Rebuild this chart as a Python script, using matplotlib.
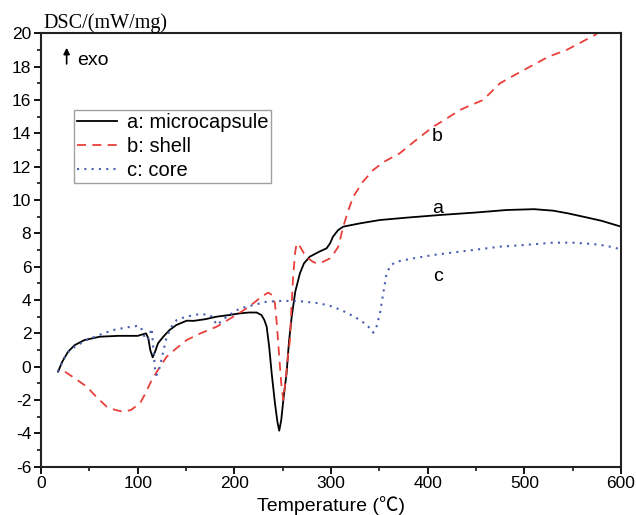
import matplotlib
matplotlib.use('Agg')
import matplotlib.pyplot as plt
from matplotlib.ticker import MultipleLocator


# curve a: microcapsule (black solid)
T_A = [17.6, 22, 28, 35, 45, 61, 80, 100, 108.6, 111, 113, 115.5, 118, 121, 126.5,
       133, 140, 150.7, 158, 164, 170, 181.7, 195, 205.8, 215, 223, 228, 231, 233.4,
       236, 238.6, 242, 244.5, 246.4, 248.5, 251, 254, 256.5, 259.3, 263, 267.8, 272,
       278, 287.8, 295.4, 299, 302, 307.4, 312.6, 330, 350.6, 380, 412.6, 450, 481.6,
       510, 529.8, 545, 560.8, 580, 600]
V_A = [-0.3, 0.3, 0.9, 1.3, 1.6, 1.8, 1.85, 1.85, 2.0, 1.7, 1.0, 0.56, 0.9, 1.4, 1.8,
       2.2, 2.5, 2.76, 2.75, 2.8, 2.85, 3.0, 3.1, 3.2, 3.25, 3.25, 3.1, 2.8, 2.4,
       1.2, -0.4, -2.2, -3.3, -3.84, -3.2, -1.8, -0.4, 1.5, 3.0, 4.5, 5.6, 6.2,
       6.6, 6.9, 7.1, 7.4, 7.8, 8.2, 8.4, 8.6, 8.8, 8.95, 9.1, 9.25, 9.4,
       9.45, 9.36, 9.2, 9.0, 8.75, 8.4]

# curve b: shell (red dashed)
T_B = [24.8, 35, 47.3, 57, 67.9, 77, 85, 93, 102.4, 108, 114.5, 122, 130, 140, 150.7,
       165, 181.7, 198.9, 210, 219.6, 228, 235, 239, 242, 244, 246.4, 248.5, 250.6,
       253, 255, 257.5, 259, 261, 263, 264.4, 268, 272, 276.5, 281, 285, 292, 298.9,
       303, 307.5, 312.6, 318, 323, 333, 343.6, 355, 371, 388, 405.7, 420, 433.3,
       445, 457.4, 466, 474.7, 490, 509, 525, 543.6, 560, 573, 600]
V_B = [-0.3, -0.7, -1.2, -1.8, -2.4, -2.6, -2.7, -2.6, -2.2, -1.6, -0.8, -0.1, 0.6,
       1.1, 1.6, 2.0, 2.4, 3.0, 3.4, 3.8, 4.2, 4.44, 4.3, 3.8, 2.5, 0.6, -1.0, -2.0,
       -0.8, 0.4, 1.6, 3.5, 5.6, 6.9, 7.4, 7.2, 6.8, 6.5, 6.3, 6.2, 6.3, 6.5,
       6.8, 7.2, 8.4, 9.4, 10.2, 11.1, 11.8, 12.3, 12.8, 13.6, 14.4, 14.9, 15.4,
       15.7, 16.0, 16.5, 17.0, 17.5, 18.1, 18.6, 19.0, 19.5, 19.9, 21.0]

# curve c: core (blue dotted)
T_C = [17.6, 22, 26.5, 35, 47.3, 60, 74.8, 88, 98.9, 103, 105.8, 108, 111, 114.5,
       116, 118, 119.5, 122, 126, 130, 135, 140.3, 150, 164.4, 174.8, 178, 181.7,
       186, 192, 205.8, 220, 233.4, 250, 267.8, 288, 302, 316, 330, 338, 343.6, 347,
       350.6, 354, 357.5, 362, 367.8, 385, 405.7, 440, 474.7, 500, 529.8, 550, 571,
       585, 600]
V_C = [-0.3, 0.3, 0.8, 1.2, 1.6, 1.9, 2.2, 2.35, 2.44, 2.4, 2.0, 1.6, 1.7, 2.3,
       1.2, -0.2, -0.5, -0.2, 0.8, 1.8, 2.4, 2.8, 3.0, 3.16, 3.1, 2.9, 2.5,
       2.7, 3.0, 3.5, 3.7, 3.9, 3.95, 3.93, 3.8, 3.6, 3.25, 2.8, 2.45, 2.04, 2.4,
       3.2, 4.4, 5.6, 6.1, 6.3, 6.5, 6.7, 6.95, 7.2, 7.3, 7.44, 7.44, 7.36,
       7.25, 7.04]

X_TICKS = [0, 100, 200, 300, 400, 500, 600]
Y_TICKS = [-6, -4, -2, 0, 2, 4, 6, 8, 10, 12, 14, 16, 18, 20]

plt.rcParams['font.family'] = ['Liberation Sans', 'Noto Sans CJK SC', 'DejaVu Sans']
plt.rcParams['axes.unicode_minus'] = False

fig = plt.figure(figsize=(6.36, 5.15), dpi=100)
ax = fig.add_axes([0.0645, 0.0938, 0.912, 0.8415])

ax.plot(T_A, V_A, color='black', linewidth=1.3, label='a: microcapsule')
ax.plot(T_B, V_B, color='#e8403a', linewidth=1.3, linestyle=(0, (5, 3.5)), label='b: shell')
ax.plot(T_C, V_C, color='#4a5fb0', linewidth=1.5, linestyle=(0, (1, 2.5)), label='c: core')

ax.set_xlim(0, 600)
ax.set_ylim(-6, 20)
ax.set_xticks(X_TICKS)
ax.set_yticks(Y_TICKS)
ax.xaxis.set_minor_locator(MultipleLocator(50))
ax.yaxis.set_minor_locator(MultipleLocator(1))
ax.tick_params(which='major', direction='out', length=5, width=1.3, labelsize=12.5, pad=2)
ax.tick_params(which='minor', direction='out', length=3, width=1.1)
ax.tick_params(top=False, right=False)
for sp in ax.spines.values():
    sp.set_linewidth(1.5)
    sp.set_color('#222222')

#labels
ax.set_xlabel('Temperature (℃)', fontsize=14, labelpad=3)
ax.text(0.004, 1.0, 'DSC/(mW/mg)', transform=ax.transAxes, fontsize=14.5,
        family='Liberation Serif', ha='left', va='bottom')

#exo arrow
ax.annotate('', xy=(26.5, 19.3), xytext=(26.5, 18.0),
            arrowprops=dict(arrowstyle='-|>', color='black', lw=1.2, mutation_scale=9))
ax.text(37, 18.35, 'exo', fontsize=14, va='center', ha='left')

#curve tags
ax.text(410.5, 9.5, 'a', fontsize=14, ha='center', va='center')
ax.text(409.5, 13.8, 'b', fontsize=14, ha='center', va='center')
ax.text(410.5, 5.4, 'c', fontsize=14, ha='center', va='center')

leg = ax.legend(loc='upper left', bbox_to_anchor=(0.056, 0.824), fontsize=14.5,
                frameon=True, fancybox=False, handlelength=2.0, handletextpad=0.5,
                borderpad=0.15, labelspacing=0.25, borderaxespad=0)
leg.get_frame().set_edgecolor('#888888')
leg.get_frame().set_linewidth(1.0)

plt.savefig('out.png', dpi=100)
plt.close()
